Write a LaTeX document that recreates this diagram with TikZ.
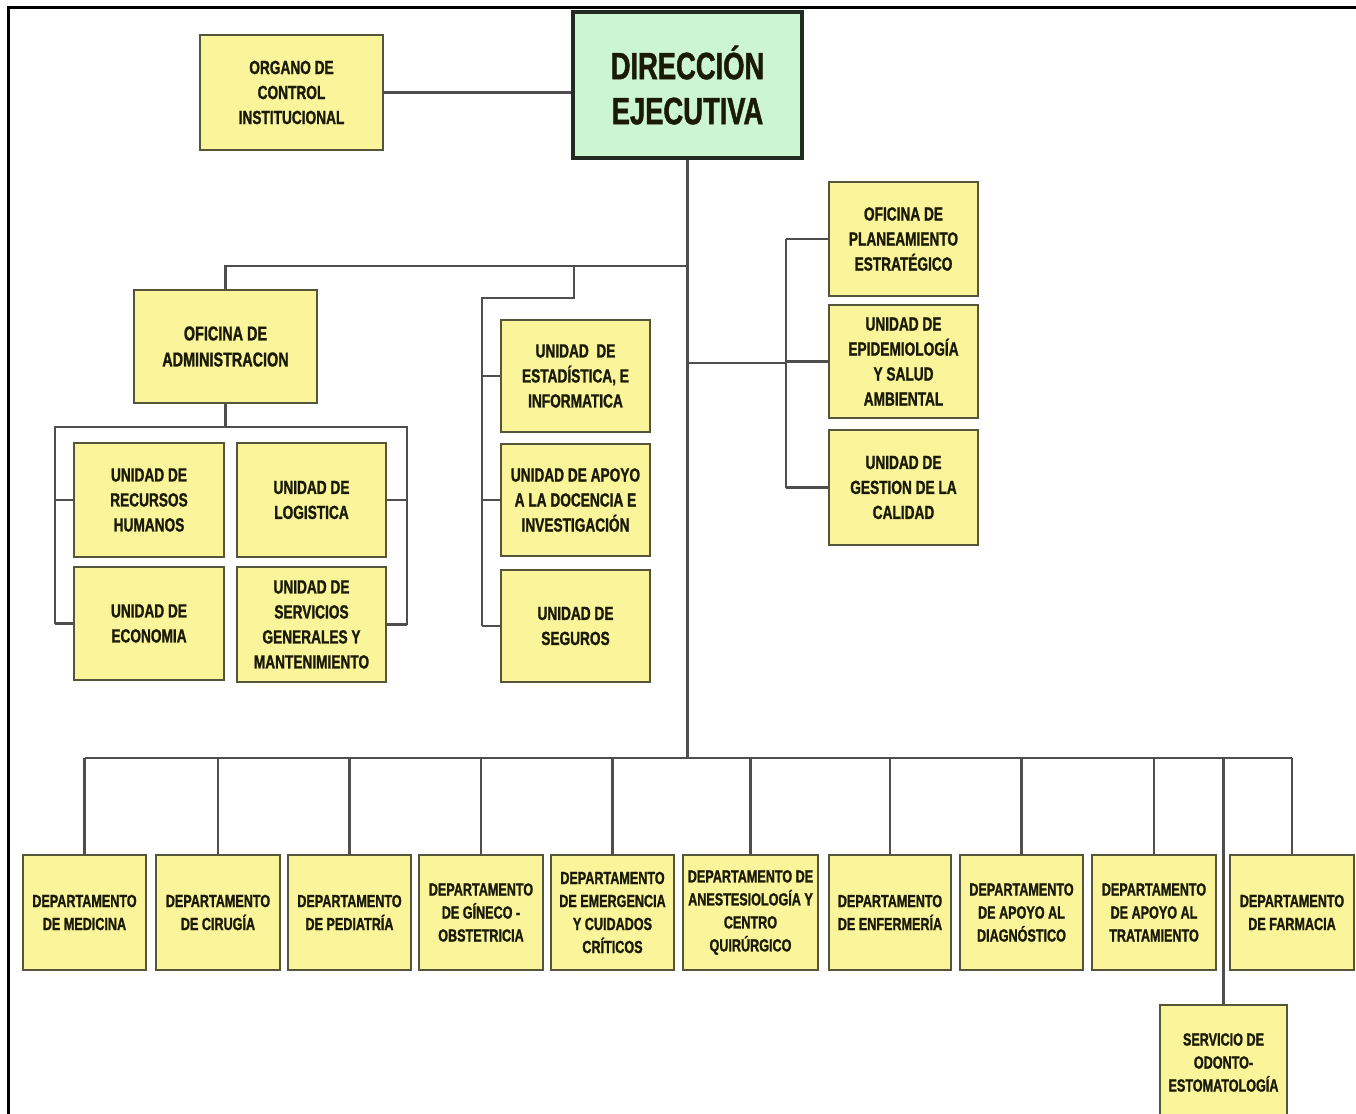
\documentclass[tikz,border=0pt]{standalone}
\usepackage{fontspec}
\setmainfont{Liberation Sans}[FakeStretch=0.72]
\newfontfamily\boxfont{Liberation Sans Bold}[FakeStretch=0.72, FakeBold=1.2]
\definecolor{boxfill}{HTML}{FAF59B}
\definecolor{boxline}{HTML}{55553A}
\definecolor{dirfill}{HTML}{CCF5D2}
\definecolor{dirline}{HTML}{222A22}
\definecolor{conn}{HTML}{4E4E4E}
\definecolor{txt}{HTML}{1A1A05}
\tikzset{
  unitbox/.style={draw=boxline, fill=boxfill, line width=2.5pt, inner sep=0pt,
    align=center, text=txt, font=\boxfont\fontsize{19}{25}\selectfont},
  deptbox/.style={unitbox, minimum width=123pt, minimum height=115pt,
    font=\boxfont\fontsize{17.5}{23}\selectfont},
  dirbox/.style={draw=dirline, fill=dirfill, line width=3.5pt, inner sep=0pt,
    align=center, text=txt, font=\boxfont\fontsize{38}{45}\selectfont},
  link/.style={draw=conn, line width=2.5pt}
}
\begin{document}
\begin{tikzpicture}[x=1pt,y=-1pt]
\useasboundingbox (0,0) rectangle (1356,1113);
% frame
\draw[line width=3pt, black] (8,1115) -- (8,8) -- (1358,8);

% top level
\node[dirbox, minimum width=229pt, minimum height=146pt] (dir) at (687.5,85) {DIRECCIÓN\\EJECUTIVA};
\node[unitbox, minimum width=183pt, minimum height=115pt] (org) at (291.5,92.5) {ORGANO DE\\CONTROL\\INSTITUCIONAL};

% administration
\node[unitbox, minimum width=183pt, minimum height=113pt, font=\boxfont\fontsize{20}{26}\selectfont] (adm) at (225.5,346.5) {OFICINA DE\\ADMINISTRACION};
\node[unitbox, minimum width=150pt, minimum height=114pt] (rrhh) at (149,500) {UNIDAD DE\\RECURSOS\\HUMANOS};
\node[unitbox, minimum width=149pt, minimum height=114pt] (log) at (311.5,500) {UNIDAD DE\\LOGISTICA};
\node[unitbox, minimum width=150pt, minimum height=113pt] (eco) at (149,623.5) {UNIDAD DE\\ECONOMIA};
\node[unitbox, minimum width=149pt, minimum height=115pt] (serv) at (311.5,624.5) {UNIDAD DE\\SERVICIOS\\GENERALES Y\\MANTENIMIENTO};

% middle column
\node[unitbox, minimum width=149pt, minimum height=112pt] (est) at (575.5,376) {UNIDAD\ \ DE\\ESTADÍSTICA, E\\INFORMATICA};
\node[unitbox, minimum width=149pt, minimum height=112pt] (doc) at (575.5,500) {UNIDAD DE APOYO\\A LA DOCENCIA E\\INVESTIGACIÓN};
\node[unitbox, minimum width=149pt, minimum height=112pt] (seg) at (575.5,626) {UNIDAD DE\\SEGUROS};

% right column
\node[unitbox, minimum width=149pt, minimum height=114pt] (plan) at (903.5,239) {OFICINA DE\\PLANEAMIENTO\\ESTRATÉGICO};
\node[unitbox, minimum width=149pt, minimum height=113pt] (epi) at (903.5,361.5) {UNIDAD DE\\EPIDEMIOLOGÍA\\Y SALUD\\AMBIENTAL};
\node[unitbox, minimum width=149pt, minimum height=115pt] (cal) at (903.5,487.5) {UNIDAD DE\\GESTION DE LA\\CALIDAD};

% departments
\node[deptbox] (med) at (84.5,912.5) {DEPARTAMENTO\\DE MEDICINA};
\node[deptbox, minimum width=124pt] (cir) at (218,912.5) {DEPARTAMENTO\\DE CIRUGÍA};
\node[deptbox] (ped) at (349.5,912.5) {DEPARTAMENTO\\DE PEDIATRÍA};
\node[deptbox, minimum width=124pt] (gin) at (481,912.5) {DEPARTAMENTO\\DE GÍNECO -\\OBSTETRICIA};
\node[deptbox] (eme) at (612.5,912.5) {DEPARTAMENTO\\DE EMERGENCIA\\Y CUIDADOS\\CRÍTICOS};
\node[deptbox, minimum width=135pt] (ane) at (750.5,912.5) {DEPARTAMENTO DE\\ANESTESIOLOGÍA Y\\CENTRO\\QUIRÚRGICO};
\node[deptbox, minimum width=122pt] (enf) at (890,912.5) {DEPARTAMENTO\\DE ENFERMERÍA};
\node[deptbox] (dia) at (1021.5,912.5) {DEPARTAMENTO\\DE APOYO AL\\DIAGNÓSTICO};
\node[deptbox, minimum width=124pt] (tra) at (1154,912.5) {DEPARTAMENTO\\DE APOYO AL\\TRATAMIENTO};
\node[deptbox, minimum width=124pt] (far) at (1292,912.5) {DEPARTAMENTO\\DE FARMACIA};
\node[deptbox, minimum width=127pt] (odo) at (1223.5,1062.5) {SERVICIO DE\\ODONTO-\\ESTOMATOLOGÍA};

% connectors
\coordinate (busY) at (0,758);
\coordinate (j1) at (687.5,266);
\coordinate (j2) at (574,266);
\coordinate (s1) at (482,298);
\coordinate (a1) at (55,427);
\coordinate (a2) at (407,427);
\coordinate (r1) at (786,363);

\draw[link] (org.east) -- (org.east -| dir.west);
\draw[link] (dir.south) -- (dir.south |- busY);
\draw[link] (j1) -| (adm.north);
\draw[link] (j2) |- (s1) -- (s1 |- seg.west);
\foreach \n in {est,doc,seg} \draw[link] (s1 |- \n.west) -- (\n.west);

\draw[link] (adm.south) -- (adm.south |- a1);
\draw[link] (a1 |- rrhh.west) |- (a2) -- (a2 |- serv.east);
\draw[link] (a1 |- eco.west) -- (a1 |- rrhh.west);
\foreach \n in {rrhh,eco} \draw[link] (a1 |- \n.west) -- (\n.west);
\foreach \n in {log,serv} \draw[link] (a2 |- \n.east) -- (\n.east);

\draw[link] (r1 -| dir.south) -- (r1);
\draw[link] (r1 |- plan.west) -- (r1 |- cal.west);
\foreach \n in {plan,epi,cal} \draw[link] (r1 |- \n.west) -- (\n.west);

\draw[link] (med.north |- busY) -- (far.north |- busY);
\foreach \n in {med,cir,ped,gin,eme,ane,enf,dia,tra,far} \draw[link] (\n.north |- busY) -- (\n.north);
\draw[link] (odo.north |- busY) -- (odo.north);
\end{tikzpicture}
\end{document}
